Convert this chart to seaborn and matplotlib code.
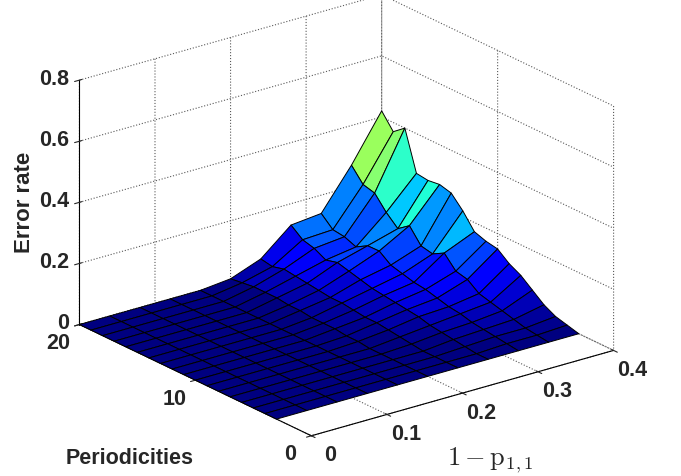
import numpy as np
import matplotlib
matplotlib.use("Agg")
import matplotlib.pyplot as plt
from mpl_toolkits.mplot3d import proj3d
import seaborn as sns

# grid of the surface: 1 - p11 (x) and periodicities (y)
one_minus_p = [0.0, 0.04, 0.08, 0.12, 0.16, 0.20, 0.24, 0.28, 0.32, 0.36, 0.40]
periodicities = list(range(3, 21))

# error rate, one row per periodicity (3..20), one column per 1 - p11 value
error_rate = [
    [0, 0, 0, 0, 0, 0,     0,     0,     0,     0,     0],
    [0, 0, 0, 0, 0, 0,     0,     0,     0.005, 0.005, 0.01],
    [0, 0, 0, 0, 0, 0,     0,     0.005, 0.01,  0.01,  0.02],
    [0, 0, 0, 0, 0, 0,     0,     0.01,  0.015, 0.02,  0.04],
    [0, 0, 0, 0, 0, 0,     0.005, 0.015, 0.02,  0.03,  0.07],
    [0, 0, 0, 0, 0, 0,     0.01,  0.02,  0.03,  0.04,  0.10],
    [0, 0, 0, 0, 0, 0.005, 0.015, 0.03,  0.035, 0.05,  0.12],
    [0, 0, 0, 0, 0, 0.005, 0.02,  0.035, 0.045, 0.078, 0.15],
    [0, 0, 0, 0, 0, 0.01,  0.02,  0.04,  0.055, 0.087, 0.157],
    [0, 0, 0, 0, 0, 0.01,  0.025, 0.045, 0.06,  0.128, 0.17],
    [0, 0, 0, 0, 0, 0.01,  0.03,  0.05,  0.07,  0.107, 0.22],
    [0, 0, 0, 0, 0, 0.015, 0.03,  0.06,  0.08,  0.115, 0.26],
    [0, 0, 0, 0, 0, 0.015, 0.035, 0.07,  0.108, 0.163, 0.27],
    [0, 0, 0, 0, 0, 0.02,  0.04,  0.08,  0.107, 0.135, 0.265],
    [0, 0, 0, 0, 0, 0.02,  0.045, 0.07,  0.085, 0.17,  0.27],
    [0, 0, 0, 0, 0, 0.02,  0.05,  0.09,  0.10,  0.215, 0.40],
    [0, 0, 0, 0, 0, 0.015, 0.04,  0.10,  0.105, 0.225, 0.37],
    [0, 0, 0, 0, 0, 0.01,  0.047, 0.13,  0.14,  0.27,  0.42],
]

x_ticks = [0, 0.1, 0.2, 0.3, 0.4]
x_ticklabels = ["0", "0.1", "0.2", "0.3", "0.4"]
y_ticks = [0, 10, 20]
y_ticklabels = ["0", "10", "20"]
z_ticks = [0, 0.2, 0.4, 0.6, 0.8]
z_ticklabels = ["0", "0.2", "0.4", "0.6", "0.8"]

sns.set_style("white")
plt.rcParams["font.family"] = ["Liberation Sans", "DejaVu Sans"]
plt.rcParams["font.weight"] = "bold"
plt.rcParams["mathtext.fontset"] = "cm"
plt.rcParams["grid.linestyle"] = ":"
plt.rcParams["grid.color"] = "0.35"
plt.rcParams["grid.linewidth"] = 0.8

X, Y = np.meshgrid(one_minus_p, periodicities)
Z = np.array(error_rate)

fig = plt.figure(figsize=(6.81, 4.77), dpi=100)
ax = fig.add_axes([0.0, 0.068, 1.0, 0.932], projection="3d", proj_type="ortho")

# MATLAB-like flat faceted shading: each face takes the colour of its first vertex
cmap = matplotlib.colormaps["jet"]
norm = plt.Normalize(0, Z.max())
surf = ax.plot_surface(X, Y, Z, facecolors=cmap(norm(Z)), rstride=1, cstride=1,
                       edgecolor="black", linewidth=0.7, shade=False)
surf.set_clip_on(False)

ax.view_init(elev=21.6, azim=-127.5)
ax.set_box_aspect((1, 1, 0.69), zoom=1.309)
ax.set_xlim(0, 0.4)
ax.set_ylim(0, 20)
ax.set_zlim(0, 0.8)
ax.set_xticks(x_ticks)
ax.set_yticks(y_ticks)
ax.set_zticks(z_ticks)

for axis in (ax.xaxis, ax.yaxis, ax.zaxis):
    axis.set_pane_color((1, 1, 1, 0))
    axis.pane.set_edgecolor("none")
    axis.line.set_color("black")
    # default tick labels are replaced by the texts below
    axis.set_tick_params(labelbottom=False)

# tick labels placed like MATLAB does: project the tick point, then shift it in pixels
fig.canvas.draw()
to_fig = fig.transFigure.inverted()


def tick_label(x, y, z, s, dx, dy, ha):
    xs, ys, _ = proj3d.proj_transform(x, y, z, ax.M)
    px, py = ax.transData.transform((xs, ys))
    fx, fy = to_fig.transform((px + dx, py + dy))
    fig.text(fx, fy, s, ha=ha, va="center", fontsize=15.5, fontweight="bold")


for v, s in zip(x_ticks, x_ticklabels):
    tick_label(v, 0, 0, s, 19, -19, "center")
for v, s in zip(y_ticks, y_ticklabels):
    tick_label(0, v, 0, s, -21, -18, "center")
for v, s in zip(z_ticks, z_ticklabels):
    tick_label(0, 20, v, s, -10, 2, "right")

fig.text(24 / 681, 1 - 202 / 477, "Error rate", rotation=90, ha="center", va="center",
         fontsize=16, fontweight="bold")
fig.text(130 / 681, 1 - 459 / 477, "Periodicities", ha="center", va="center",
         fontsize=15.5, fontweight="bold")
fig.text(490 / 681, 1 - 460 / 477, r"$1-\mathrm{p}_{1,1}$", ha="center", va="center",
         fontsize=19)

fig.savefig("out.png", dpi=100, facecolor="white")
